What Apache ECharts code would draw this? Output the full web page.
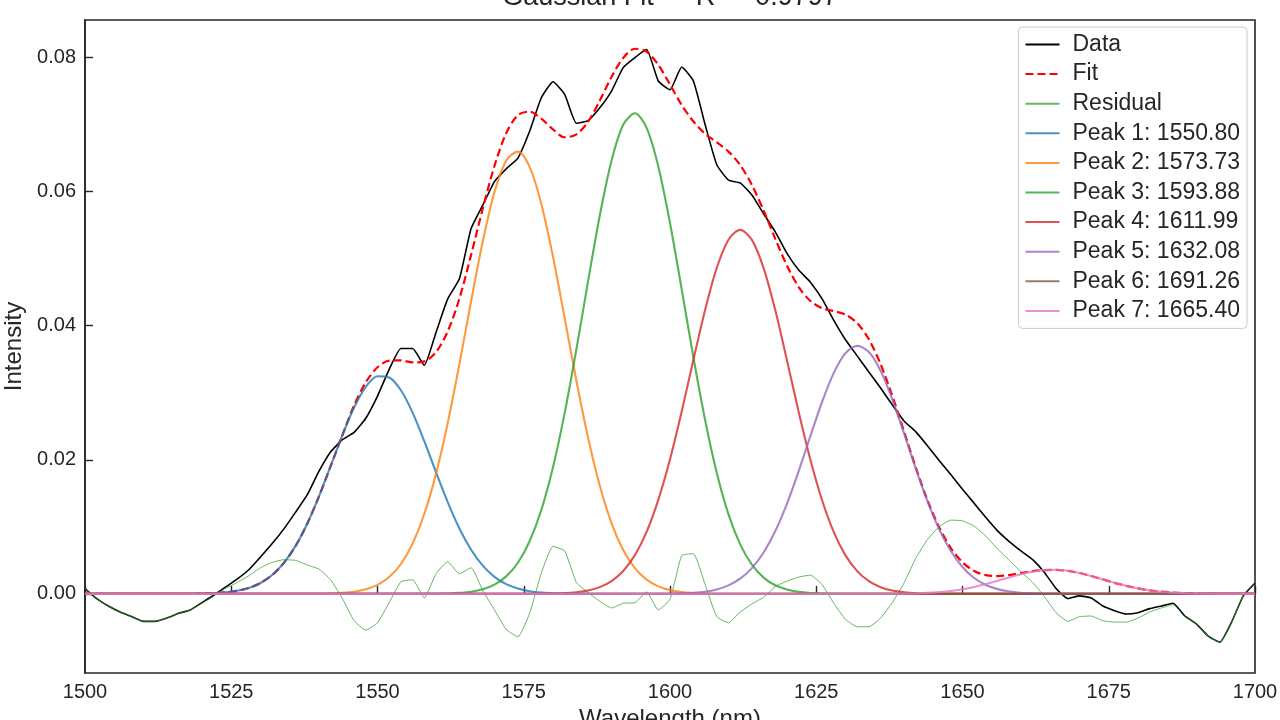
<!DOCTYPE html>
<html>
<head>
<meta charset="utf-8">
<script src="https://cdn.jsdelivr.net/npm/echarts@6/dist/echarts.min.js"></script>
<style>
    html, body {margin: 0; padding: 0; background: #fff;}
    #chart {width: 1280px; height: 720px;}
</style>
</head>
<body>
<div id="chart"></div>
<script>
/*
* Gaussian fit of the spectrum, 7 peaks
* */
var wavelength = [
    1500, 1502, 1504, 1506, 1508, 1510, 1512, 1514, 1516, 1518,
    1520, 1522, 1524, 1526, 1528, 1530, 1532, 1534, 1536, 1538,
    1540, 1542, 1544, 1546, 1548, 1550, 1552, 1554, 1556, 1558,
    1560, 1562, 1564, 1566, 1568, 1570, 1572, 1574, 1576, 1578,
    1580, 1582, 1584, 1586, 1588, 1590, 1592, 1594, 1596, 1598,
    1600, 1602, 1604, 1606, 1608, 1610, 1612, 1614, 1616, 1618,
    1620, 1622, 1624, 1626, 1628, 1630, 1632, 1634, 1636, 1638,
    1640, 1642, 1644, 1646, 1648, 1650, 1652, 1654, 1656, 1658,
    1660, 1662, 1664, 1666, 1668, 1670, 1672, 1674, 1676, 1678,
    1680, 1682, 1684, 1686, 1688, 1690, 1692, 1694, 1696, 1698,
    1700
]
var measured = [
    0.0008, -0.0007, -0.0018, -0.0027, -0.0034, -0.0041, -0.0041, -0.0036, -0.0029, -0.0024,
    -0.0013, -0.0002, 0.0010, 0.0022, 0.0036, 0.0055, 0.0075, 0.0097, 0.0122, 0.0148,
    0.0183, 0.0212, 0.0230, 0.0241, 0.0262, 0.0295, 0.0335, 0.0366, 0.0366, 0.0341,
    0.0390, 0.0440, 0.0470, 0.0545, 0.0580, 0.0615, 0.0634, 0.0650, 0.0690, 0.0740,
    0.0764, 0.0745, 0.0702, 0.0706, 0.0725, 0.0750, 0.0785, 0.0800, 0.0812, 0.0765,
    0.0752, 0.0786, 0.0765, 0.0700, 0.0640, 0.0617, 0.0613, 0.0595, 0.0567, 0.0540,
    0.0508, 0.0483, 0.0465, 0.0440, 0.0408, 0.0379, 0.0355, 0.0331, 0.0307, 0.0282,
    0.0258, 0.0242, 0.0221, 0.0199, 0.0178, 0.0156, 0.0135, 0.0114, 0.0094, 0.0078,
    0.0064, 0.0051, 0.0032, 0.0008, -0.0007, -0.0003, -0.0006, -0.0018, -0.0025, -0.0030,
    -0.0028, -0.0022, -0.0018, -0.0014, -0.0033, -0.0045, -0.0063, -0.0072, -0.0042, -0.0003,
    0.0016
]
var fitted = [
    0, 0, 0, 0, 0, 0, 0, 0, 0, 0,
    0.00005, 0.0001, 0.00023, 0.00046, 0.00089, 0.00163, 0.00282, 0.00463, 0.00716, 0.01049,
    0.01455, 0.01908, 0.02367, 0.02812, 0.03156, 0.0338, 0.03479, 0.03483, 0.03453, 0.03468,
    0.03605, 0.03916, 0.04404, 0.05057, 0.0575, 0.06386, 0.06871, 0.07141, 0.07194, 0.07089,
    0.06929, 0.06811, 0.06853, 0.07044, 0.07358, 0.07709, 0.07994, 0.08131, 0.08089, 0.0789,
    0.07597, 0.07291, 0.07047, 0.06863, 0.06735, 0.06597, 0.06396, 0.061, 0.05719, 0.05295,
    0.04895, 0.04576, 0.04369, 0.04261, 0.04218, 0.04166, 0.0404, 0.03797, 0.03427, 0.02953,
    0.02425, 0.01891, 0.014, 0.00995, 0.00684, 0.00471, 0.00341, 0.00279, 0.00266, 0.00281,
    0.00311, 0.0034, 0.00355, 0.00359, 0.00344, 0.00311, 0.00266, 0.00216, 0.00165, 0.0012,
    0.00082, 0.00053, 0.00033, 0.00019, 0.0001, 0.00005, 0, 0, 0, 0,
    0
]
var residual = [
    0.0008, -0.0007, -0.0018, -0.0027, -0.0034, -0.0041, -0.0041, -0.0036, -0.0029, -0.0024,
    -0.0014, -0.0003, 0.0008, 0.0017, 0.0027, 0.0039, 0.0047, 0.0051, 0.0050, 0.0043,
    0.0037, 0.0021, -0.0007, -0.0040, -0.0054, -0.0043, -0.0013, 0.0018, 0.0021, -0.0006,
    0.0030, 0.0048, 0.0030, 0.0039, 0.0005, -0.0024, -0.0053, -0.0064, -0.0029, 0.0031,
    0.0071, 0.0064, 0.0017, 0.0002, -0.0011, -0.0021, -0.0014, -0.0013, 0.0003, -0.0024,
    -0.0008, 0.0057, 0.0060, 0.0014, -0.0034, -0.0043, -0.0027, -0.0015, -0.0005, 0.0011,
    0.0019, 0.0025, 0.0028, 0.0014, -0.0014, -0.0038, -0.0049, -0.0049, -0.0036, -0.0013,
    0.0016, 0.0053, 0.0081, 0.0100, 0.0110, 0.0109, 0.0101, 0.0086, 0.0067, 0.0050,
    0.0033, 0.0017, -0.0004, -0.0028, -0.0041, -0.0034, -0.0033, -0.0040, -0.0042, -0.0042,
    -0.0036, -0.0027, -0.0021, -0.0016, -0.0034, -0.0045, -0.0063, -0.0072, -0.0042, -0.0003,
    0.0016
]
var peak1 = [
    0, 0, 0, 0, 0, 0, 0, 0, 0, 0,
    0.00005, 0.0001, 0.00023, 0.00046, 0.00089, 0.00163, 0.00282, 0.00463, 0.00716, 0.01049,
    0.01455, 0.01908, 0.02367, 0.0278, 0.03088, 0.03246, 0.03228, 0.03037, 0.02704, 0.02277,
    0.01815, 0.01369, 0.00976, 0.00659, 0.00421, 0.00254, 0.00145, 0.00079, 0.0004, 0.0002,
    0.0001, 0, 0, 0, 0, 0, 0, 0, 0, 0,
    0, 0, 0, 0, 0, 0, 0, 0, 0, 0,
    0, 0, 0, 0, 0, 0, 0, 0, 0, 0,
    0, 0, 0, 0, 0, 0, 0, 0, 0, 0,
    0, 0, 0, 0, 0, 0, 0, 0, 0, 0,
    0, 0, 0, 0, 0, 0, 0, 0, 0, 0,
    0
]
var peak2 = [
    0, 0, 0, 0, 0, 0, 0, 0, 0, 0,
    0, 0, 0, 0, 0, 0, 0, 0, 0, 0,
    0, 0.00006, 0.00015, 0.00032, 0.00068, 0.00134, 0.00251, 0.00446, 0.00749, 0.01191,
    0.0179, 0.02547, 0.03428, 0.04365, 0.05259, 0.05994, 0.06465, 0.06597, 0.06369, 0.05817,
    0.05029, 0.04111, 0.0318, 0.02328, 0.01613, 0.01057, 0.00655, 0.00384, 0.00213, 0.00112,
    0.00056, 0.00026, 0.0001, 0, 0, 0, 0, 0, 0, 0,
    0, 0, 0, 0, 0, 0, 0, 0, 0, 0,
    0, 0, 0, 0, 0, 0, 0, 0, 0, 0,
    0, 0, 0, 0, 0, 0, 0, 0, 0, 0,
    0, 0, 0, 0, 0, 0, 0, 0, 0, 0,
    0
]
var peak3 = [
    0, 0, 0, 0, 0, 0, 0, 0, 0, 0,
    0, 0, 0, 0, 0, 0, 0, 0, 0, 0,
    0, 0, 0, 0, 0, 0, 0, 0, 0, 0,
    0.00003, 0.00006, 0.00015, 0.00033, 0.0007, 0.00138, 0.00261, 0.00465, 0.00785, 0.01252,
    0.0189, 0.027, 0.03649, 0.04666, 0.05644, 0.06461, 0.06997, 0.07169, 0.06951, 0.06376,
    0.05533, 0.04543, 0.0353, 0.02594, 0.01804, 0.01187, 0.00739, 0.00435, 0.00243, 0.00128,
    0.00064, 0.0003, 0.00013, 0.00005, 0, 0, 0, 0, 0, 0,
    0, 0, 0, 0, 0, 0, 0, 0, 0, 0,
    0, 0, 0, 0, 0, 0, 0, 0, 0, 0,
    0, 0, 0, 0, 0, 0, 0, 0, 0, 0,
    0
]
var peak4 = [
    0, 0, 0, 0, 0, 0, 0, 0, 0, 0,
    0, 0, 0, 0, 0, 0, 0, 0, 0, 0,
    0, 0, 0, 0, 0, 0, 0, 0, 0, 0,
    0, 0, 0, 0, 0, 0, 0, 0, 0, 0,
    0.00005, 0.00011, 0.00024, 0.0005, 0.00101, 0.00191, 0.00342, 0.00578, 0.00925, 0.01402,
    0.02008, 0.02722, 0.03491, 0.04236, 0.04864, 0.05283, 0.0543, 0.0528, 0.04858, 0.04229,
    0.03483, 0.02714, 0.02001, 0.01396, 0.00921, 0.00575, 0.0034, 0.0019, 0.001, 0.0005,
    0.00024, 0.0001, 0.00004, 0, 0, 0, 0, 0, 0, 0,
    0, 0, 0, 0, 0, 0, 0, 0, 0, 0,
    0, 0, 0, 0, 0, 0, 0, 0, 0, 0,
    0
]
var peak5 = [
    0, 0, 0, 0, 0, 0, 0, 0, 0, 0,
    0, 0, 0, 0, 0, 0, 0, 0, 0, 0,
    0, 0, 0, 0, 0, 0, 0, 0, 0, 0,
    0, 0, 0, 0, 0, 0, 0, 0, 0, 0,
    0, 0, 0, 0, 0, 0, 0, 0, 0, 0,
    0.00003, 0.00007, 0.00016, 0.00033, 0.00067, 0.00127, 0.00227, 0.00385, 0.00618, 0.00938,
    0.01348, 0.01832, 0.02355, 0.02865, 0.03297, 0.03591, 0.037, 0.03607, 0.03327, 0.02903,
    0.02397, 0.01873, 0.01385, 0.00968, 0.0064, 0.00401, 0.00237, 0.00133, 0.00071, 0.00035,
    0.00017, 0.00008, 0.00003, 0, 0, 0, 0, 0, 0, 0,
    0, 0, 0, 0, 0, 0, 0, 0, 0, 0,
    0
]
var peak6 = [
    0, 0, 0, 0, 0, 0, 0, 0, 0, 0,
    0, 0, 0, 0, 0, 0, 0, 0, 0, 0,
    0, 0, 0, 0, 0, 0, 0, 0, 0, 0,
    0, 0, 0, 0, 0, 0, 0, 0, 0, 0,
    0, 0, 0, 0, 0, 0, 0, 0, 0, 0,
    0, 0, 0, 0, 0, 0, 0, 0, 0, 0,
    0, 0, 0, 0, 0, 0, 0, 0, 0, 0,
    0, 0, 0, 0, 0, 0, 0, 0, 0, 0,
    0, 0, 0, 0, 0, 0, 0, 0, 0, 0,
    0, 0, 0, 0, 0, 0, 0, 0, 0, 0,
    0
]
var peak7 = [
    0, 0, 0, 0, 0, 0, 0, 0, 0, 0,
    0, 0, 0, 0, 0, 0, 0, 0, 0, 0,
    0, 0, 0, 0, 0, 0, 0, 0, 0, 0,
    0, 0, 0, 0, 0, 0, 0, 0, 0, 0,
    0, 0, 0, 0, 0, 0, 0, 0, 0, 0,
    0, 0, 0, 0, 0, 0, 0, 0, 0, 0,
    0, 0, 0, 0, 0, 0, 0, 0, 0, 0,
    0.00004, 0.00008, 0.00015, 0.00027, 0.00044, 0.0007, 0.00104, 0.00146, 0.00195, 0.00246,
    0.00294, 0.00332, 0.00355, 0.00359, 0.00344, 0.00311, 0.00266, 0.00216, 0.00165, 0.0012,
    0.00082, 0.00053, 0.00033, 0.00019, 0.0001, 0.00005, 0.00002, 0, 0, 0,
    0
]
var peakNames = ['Peak 1: 1550.80', 'Peak 2: 1573.73', 'Peak 3: 1593.88', 'Peak 4: 1611.99',
    'Peak 5: 1632.08', 'Peak 6: 1691.26', 'Peak 7: 1665.40']
var peakValues = [peak1, peak2, peak3, peak4, peak5, peak6, peak7]
var peakColors = ['rgba(31,119,180,0.8)', 'rgba(255,127,14,0.8)', 'rgba(44,160,44,0.8)', 'rgba(214,39,40,0.8)',
    'rgba(148,103,189,0.8)', 'rgba(140,86,75,0.8)', 'rgba(227,119,194,0.8)']
var titleText = 'Gaussian Fit — R² = 0.9797'

var textColor = '#262626'
var fontName = "'Liberation Sans', Arial, sans-serif"

function pairs(ys) {
    return wavelength.map(function (x, i) { return [x, ys[i]] })
}

function lineSeries(name, ys, color, width, extra) {
    var s = {
        name: name,
        type: 'line',
        data: pairs(ys),
        symbol: 'none',
        showSymbol: false,
        smooth: 0.3,
        color: color,
        lineStyle: {color: color, width: width},
        emphasis: {disabled: true}
    }
    for (var k in extra) s[k] = extra[k]
    return s
}

var series = [
    lineSeries('Data', measured, '#000000', 1.6, {smooth: 0.15}),
    lineSeries('Fit', fitted, '#ff0000', 2.2, {lineStyle: {color: '#ff0000', width: 2.2, type: [8, 4]}}),
    lineSeries('Residual', residual, 'rgba(44,160,44,0.75)', 1, {smooth: 0.15})
]
peakValues.forEach(function (ys, i) {
    series.push(lineSeries(peakNames[i], ys, peakColors[i], 2.1))
})

var option = {
    backgroundColor: '#ffffff',
    animation: false,
    textStyle: {fontFamily: fontName},
    title: {
        text: titleText,
        left: 670,
        textAlign: 'center',
        top: -16,
        padding: 0,
        textStyle: {color: textColor, fontSize: 27, fontWeight: 'normal', fontFamily: fontName}
    },
    grid: {
        left: 85,
        right: 25,
        top: 20,
        bottom: 47,
        outerBoundsMode: 'none',
        containLabel: false,
        show: true,
        borderColor: textColor,
        borderWidth: 1.6,
        backgroundColor: 'transparent'
    },
    legend: {
        orient: 'vertical',
        right: 33,
        top: 27,
        padding: [6, 7, 6, 6],
        itemGap: 6.6,
        itemWidth: 34,
        itemHeight: 14,
        itemStyle: {opacity: 0},
        borderColor: '#cccccc',
        borderWidth: 1,
        borderRadius: 4,
        backgroundColor: 'rgba(255,255,255,0.8)',
        textStyle: {color: textColor, fontSize: 23, lineHeight: 23, padding: [0, 0, 0, 8], fontFamily: fontName},
        data: ['Data', 'Fit', 'Residual'].concat(peakNames)
    },
    xAxis: {
        type: 'value',
        min: 1500,
        max: 1700,
        interval: 25,
        name: 'Wavelength (nm)',
        nameLocation: 'middle',
        nameGap: 33,
        nameTextStyle: {color: textColor, fontSize: 24, fontFamily: fontName},
        axisLine: {show: true, lineStyle: {color: textColor, width: 1.6}},
        axisTick: {show: true, inside: true, length: 8, lineStyle: {color: textColor, width: 1.4}},
        axisLabel: {
            color: textColor, fontSize: 20, margin: 9, fontFamily: fontName,
            formatter: function (v) { return String(v) }
        },
        splitLine: {show: false}
    },
    yAxis: {
        type: 'value',
        min: -0.0118,
        max: 0.0856,
        splitNumber: 5,
        name: 'Intensity',
        nameLocation: 'middle',
        nameGap: 55,
        nameTextStyle: {color: textColor, fontSize: 24, fontFamily: fontName},
        axisLine: {show: true, lineStyle: {color: textColor, width: 1.6}},
        axisTick: {show: true, inside: true, length: 8, lineStyle: {color: textColor, width: 1.4}},
        axisLabel: {
            color: textColor, fontSize: 20, margin: 9, fontFamily: fontName,
            showMinLabel: false, showMaxLabel: false,
            formatter: function (v) { return Math.abs(v) < 1e-9 ? '0.00' : v.toFixed(2) }
        },
        splitLine: {show: false}
    },
    series: series
}

var chart = echarts.init(document.getElementById('chart'))
chart.setOption(option)
</script>
</body>
</html>
